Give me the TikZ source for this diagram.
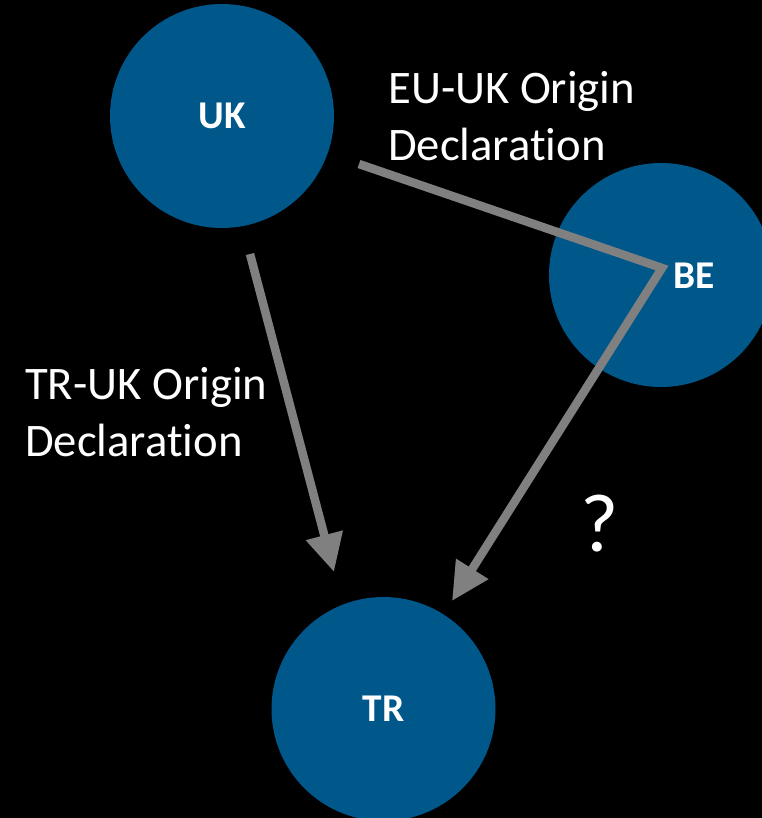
\documentclass[tikz,border=0pt]{standalone}
\usepackage{fontspec}
\setmainfont{Carlito}[Ligatures=NoCommon]
\usetikzlibrary{arrows.meta}
\definecolor{nodeblue}{RGB}{0,87,138}
\definecolor{arrowgray}{RGB}{128,128,128}
\begin{document}
\begin{tikzpicture}[x=0.75pt,y=-0.75pt,
  country/.style={circle,fill=nodeblue,draw=none,minimum size=168pt,inner sep=0pt,
    text=white,font=\fontsize{29.5}{35}\selectfont\bfseries},
  clabel/.style={text=white,font=\fontsize{29.5}{35}\selectfont\bfseries,inner sep=0pt},
  conn/.style={draw=arrowgray,line width=6.4pt},
  tip/.style={-{Triangle[length=28.5pt,width=27pt]}},
  note/.style={text=white,inner sep=0pt,align=left,anchor=base west,
    font=\fontsize{35}{42.5}\selectfont}]
\useasboundingbox[fill=black] (0,0) rectangle (762,818);
\node[country] (uk) at (222,116) {UK};
\node[country] (be) at (661,275) {};
\node[clabel] (bel) at (694,276) {BE};
\node[country] (tr) at (383.5,709) {TR};
% connector ends
\coordinate (ukeast) at (359,164);
\coordinate (uksouth) at (250,254);
\coordinate (bemid) at (662,268);
\coordinate (trtop) at (334,572);
\coordinate (trtopright) at (452,601);
\draw[conn,tip] (uksouth) -- (trtop);
\draw[conn,tip] (ukeast) -- (bemid) -- (trtopright);
\node[note] (eu) at (388,160) {EU-UK Origin\\Declaration};
\node[note] (truk) at (25,456) {TR-UK Origin\\Declaration};
\node[text=white,inner sep=0pt,anchor=base,font=\fontsize{62}{70}\selectfont] (q) at (600,551) {?};
\end{tikzpicture}
\end{document}
